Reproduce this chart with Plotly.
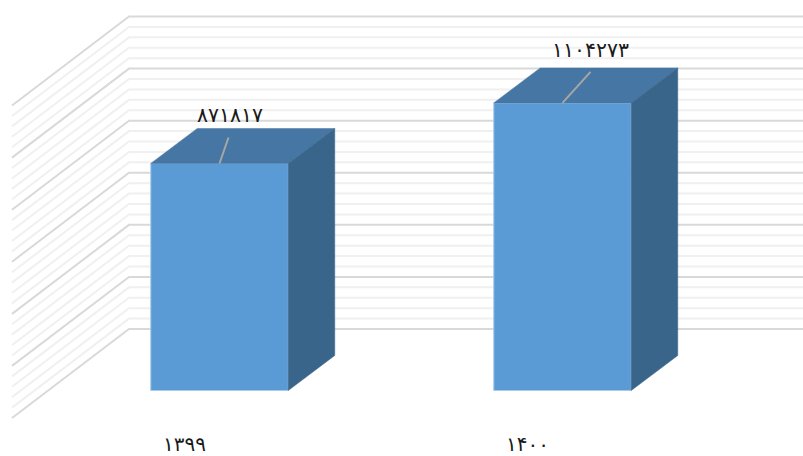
import plotly.graph_objects as go

# data
categories = ["۱۳۹۹", "۱۴۰۰"]
values = [871817, 1104273]
value_labels = ["۸۷۱۸۱۷", "۱۱۰۴۲۷۳"]
positions = [0, 1]
grid_max = 1200000
grid_step = 40000
major_step = 200000

# projection, in axis units
PX_X = 343.0
PX_Y = 52.08 / 200000
bar_w = 137.5 / PX_X
depth_x = 46.5 / PX_X
depth_y = 35 / PX_Y
wall_left = -207.5 / PX_X
wall_back = -90.5 / PX_X
floor_front = -27.5 / PX_Y
floor_back = 61.5 / PX_Y
W, H, B = 803, 456, 26
x0 = -219.5 / PX_X
x1 = (803 - 219.5) / PX_X
y0 = -(H - B - 390.5) / PX_Y
y1 = 390.5 / PX_Y

FRONT, TOP, SIDE = "#5B9BD5", "#4676A4", "#3A658A"

shapes = []
v = 0
while v <= grid_max:
    major = v % major_step == 0
    path = (f"M {wall_left} {v + floor_front} L {wall_back} {v + floor_back} "
            f"L {x1} {v + floor_back}")
    shapes.append(dict(type="path", path=path, xref="x", yref="y", layer="below",
                       line=dict(color="#D9D9D9" if major else "#F0F0F0", width=2)))
    v += grid_step

fig = go.Figure()
fig.add_trace(go.Bar(x=positions, y=values, width=bar_w, marker=dict(color=FRONT, line=dict(color="#A9CBEA", width=1)),
                     hoverinfo="skip"))

leader = [(9, 26), (28, 31)]
label_px = [(10.5, 47), (28, 51.5)]
for p, val, txt, (ldx, ldy), (tdx, tdy) in zip(positions, values, value_labels, leader, label_px):
    l = p - bar_w / 2
    r = p + bar_w / 2
    fig.add_trace(go.Scatter(x=[l, r, r + depth_x, l + depth_x, l], y=[val, val, val + depth_y, val + depth_y, val],
                             mode="lines", fill="toself", fillcolor=TOP, line=dict(color=TOP, width=0.5), hoverinfo="skip"))
    fig.add_trace(go.Scatter(x=[r, r + depth_x, r + depth_x, r, r], y=[0, depth_y, val + depth_y, val, 0],
                             mode="lines", fill="toself", fillcolor=SIDE, line=dict(color=SIDE, width=0.5), hoverinfo="skip"))
    fig.add_trace(go.Scatter(x=[p, p + ldx / PX_X], y=[val, val + ldy / PX_Y], mode="lines",
                             line=dict(color="#A6A6A6", width=2), hoverinfo="skip"))
    fig.add_trace(go.Scatter(x=[p + tdx / PX_X], y=[val + tdy / PX_Y], mode="text", text=[txt],
                             textposition="middle center", textfont=dict(family="DejaVu Sans", size=20.5, color="#1a1a1a"),
                             hoverinfo="skip"))

fig.update_layout(
    width=W, height=H, margin=dict(l=0, r=0, t=0, b=B), showlegend=False,
    paper_bgcolor="white", plot_bgcolor="white", shapes=shapes,
    xaxis=dict(range=[x0, x1], tickvals=[p - 35 / PX_X for p in positions], ticktext=categories,
               showgrid=False, zeroline=False, showline=False, ticks="", automargin=False,
               tickfont=dict(family="DejaVu Sans", size=20, color="#1a1a1a")),
    yaxis=dict(range=[y0, y1], visible=False, automargin=False),
)
fig.write_html("out.html", config=dict(displayModeBar=False),
               post_script="document.body.style.margin='0';document.documentElement.style.overflow='hidden';")
